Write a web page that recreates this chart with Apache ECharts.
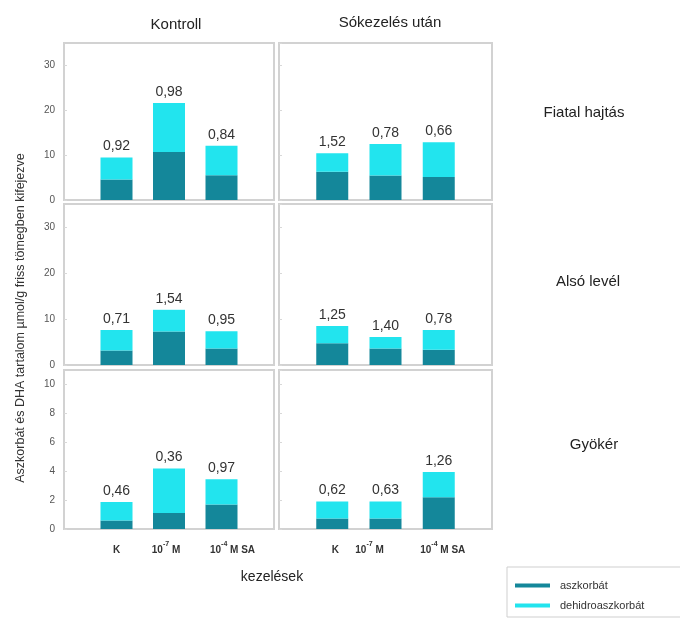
<!DOCTYPE html>
<html>
<head>
<meta charset="utf-8">
<script src="https://cdn.jsdelivr.net/npm/echarts@6/dist/echarts.min.js"></script>
<style>
  html, body { margin: 0; padding: 0; background: #ffffff; }
  #chart { width: 680px; height: 625px; }
</style>
</head>
<body>
<div id="chart"></div>
<script>
// Column and row headings
const columnTitles = ['Kontroll', 'Sókezelés után'];
const rowTitles = ['Fiatal hajtás', 'Alsó levél', 'Gyökér'];

// Treatments: category slots (empty slot at each end) and tick label parts
const treatmentSlots = ['', 'K', '10-7 M', '10-4 M SA', ''];
const treatmentBase = ['K', '10', '10'];
const treatmentExp = ['', '-7', '-4'];
const treatmentSuffix = ['', ' M', ' M SA'];

// Ascorbate (aszkorbát) and DHA (dehidroaszkorbát), µmol/g fresh weight
const ascFiatalKontroll = [4.55, 10.70, 5.52];
const dhaFiatalKontroll = [4.95, 10.90, 6.58];
const ratioFiatalKontroll = ['0,92', '0,98', '0,84'];

const ascFiatalSo = [6.27, 5.48, 5.13];
const dhaFiatalSo = [4.13, 7.02, 7.77];
const ratioFiatalSo = ['1,52', '0,78', '0,66'];

const ascAlsoKontroll = [3.16, 7.28, 3.58];
const dhaAlsoKontroll = [4.44, 4.72, 3.77];
const ratioAlsoKontroll = ['0,71', '1,54', '0,95'];

const ascAlsoSo = [4.72, 3.56, 3.33];
const dhaAlsoSo = [3.78, 2.54, 4.27];
const ratioAlsoSo = ['1,25', '1,40', '0,78'];

const ascGyokerKontroll = [0.59, 1.11, 1.69];
const dhaGyokerKontroll = [1.27, 3.08, 1.75];
const ratioGyokerKontroll = ['0,46', '0,36', '0,97'];

const ascGyokerSo = [0.73, 0.73, 2.20];
const dhaGyokerSo = [1.17, 1.17, 1.75];
const ratioGyokerSo = ['0,62', '0,63', '1,26'];

// y axis scale per row: [max, interval]
const rowScale = [[35, 10], [35, 10], [11, 2]];

const panels = [
  { row: 0, col: 0, asc: ascFiatalKontroll, dha: dhaFiatalKontroll, ratio: ratioFiatalKontroll },
  { row: 0, col: 1, asc: ascFiatalSo, dha: dhaFiatalSo, ratio: ratioFiatalSo },
  { row: 1, col: 0, asc: ascAlsoKontroll, dha: dhaAlsoKontroll, ratio: ratioAlsoKontroll },
  { row: 1, col: 1, asc: ascAlsoSo, dha: dhaAlsoSo, ratio: ratioAlsoSo },
  { row: 2, col: 0, asc: ascGyokerKontroll, dha: dhaGyokerKontroll, ratio: ratioGyokerKontroll },
  { row: 2, col: 1, asc: ascGyokerSo, dha: dhaGyokerSo, ratio: ratioGyokerSo }
];

const FONT = '"Liberation Sans", Arial, sans-serif';
const COLOR_ASC = '#14879a';
const COLOR_DHA = '#22e4ee';

// Panel placement
const colLeft = [64, 279];
const colWidth = [210, 213];
const rowTop = [43, 204, 370];
const rowHeight = [157, 161, 159];
// horizontal nudge of tick labels (px) per column
const labelShift = [[0, -3, 11], [3, -16, 4]];

// pad a three-value list with empty end slots
const slotted = (arr) => ['-', arr[0], arr[1], arr[2], '-'];

const grids = [], xAxes = [], yAxes = [], series = [];

panels.forEach((p, i) => {
  grids.push({
    left: colLeft[p.col], top: rowTop[p.row],
    width: colWidth[p.col], height: rowHeight[p.row],
    show: true, borderColor: '#d2d2d2', borderWidth: 2, backgroundColor: '#ffffff'
  });
  const bottomRow = p.row === 2;
  const shifts = labelShift[p.col];
  xAxes.push({
    type: 'category', gridIndex: i, data: treatmentSlots, boundaryGap: false,
    axisLine: { show: false }, axisTick: { show: false }, splitLine: { show: false },
    axisLabel: {
      show: bottomRow, margin: 12, fontFamily: FONT, interval: 0,
      formatter: function (v, idx) {
        const k = idx - 1;
        if (k < 0 || k > 2) return '';
        const s = shifts[k];
        let txt = '{b|' + treatmentBase[k] + '}';
        if (treatmentExp[k]) txt += '{sup|' + treatmentExp[k] + '}';
        if (treatmentSuffix[k]) txt += '{b|' + treatmentSuffix[k] + '}';
        if (s > 0) txt = '{sp' + k + '|}' + txt;
        if (s < 0) txt = txt + '{sp' + k + '|}';
        return txt;
      },
      rich: {
        b: { fontFamily: FONT, fontSize: 10, fontWeight: 'bold', color: '#333', lineHeight: 14, verticalAlign: 'bottom' },
        sup: { fontFamily: FONT, fontSize: 7, fontWeight: 'bold', color: '#333', lineHeight: 14, verticalAlign: 'top', padding: [0, 0, 5, 0] },
        sp0: { width: Math.abs(shifts[0]) * 2 },
        sp1: { width: Math.abs(shifts[1]) * 2 },
        sp2: { width: Math.abs(shifts[2]) * 2 }
      }
    }
  });
  const sc = rowScale[p.row];
  yAxes.push({
    type: 'value', gridIndex: i, min: 0, max: sc[0], interval: sc[1],
    axisLine: { show: false }, splitLine: { show: false },
    axisTick: { show: true, inside: true, length: 3, lineStyle: { color: '#d8d8d8' } },
    axisLabel: {
      show: p.col === 0, showMaxLabel: false, margin: 9,
      fontFamily: FONT, fontSize: 10, color: '#555'
    }
  });
  const stackId = 'stack' + i;
  series.push({
    name: 'aszkorbát', type: 'bar', xAxisIndex: i, yAxisIndex: i, stack: stackId,
    barWidth: 32, itemStyle: { color: COLOR_ASC },
    data: slotted(p.asc)
  });
  series.push({
    name: 'dehidroaszkorbát', type: 'bar', xAxisIndex: i, yAxisIndex: i, stack: stackId,
    barWidth: 32, itemStyle: { color: COLOR_DHA },
    label: {
      show: true, position: 'top', distance: 4,
      fontFamily: FONT, fontSize: 14, color: '#333',
      formatter: (d) => p.ratio[d.dataIndex - 1]
    },
    data: slotted(p.dha)
  });
});

const rowCenter = [113, 282, 445];

const chart = echarts.init(document.getElementById('chart'), null, { renderer: 'canvas' });
chart.setOption({
  backgroundColor: '#ffffff',
  animation: false,
  grid: grids,
  xAxis: xAxes,
  yAxis: yAxes,
  series: series,
  legend: {
    data: ['aszkorbát', 'dehidroaszkorbát'],
    orient: 'vertical', left: 507, top: 567,
    icon: 'rect', itemWidth: 35, itemHeight: 4, itemGap: 9,
    padding: [13, 40, 6, 8],
    borderColor: '#cfcfcf', borderWidth: 1,
    textStyle: { fontFamily: FONT, fontSize: 11, color: '#333', padding: [0, 0, 0, 5] }
  },
  graphic: [
    { type: 'text', x: 176, y: 25, style: { text: columnTitles[0], font: '15px ' + FONT, fill: '#222', textAlign: 'center', textVerticalAlign: 'middle' } },
    { type: 'text', x: 390, y: 23, style: { text: columnTitles[1], font: '15px ' + FONT, fill: '#222', textAlign: 'center', textVerticalAlign: 'middle' } },
    { type: 'text', x: 584, y: rowCenter[0], style: { text: rowTitles[0], font: '15px ' + FONT, fill: '#222', textAlign: 'center', textVerticalAlign: 'middle' } },
    { type: 'text', x: 588, y: rowCenter[1], style: { text: rowTitles[1], font: '15px ' + FONT, fill: '#222', textAlign: 'center', textVerticalAlign: 'middle' } },
    { type: 'text', x: 594, y: rowCenter[2], style: { text: rowTitles[2], font: '15px ' + FONT, fill: '#222', textAlign: 'center', textVerticalAlign: 'middle' } },
    { type: 'text', x: 272, y: 577, style: { text: 'kezelések', font: '14px ' + FONT, fill: '#222', textAlign: 'center', textVerticalAlign: 'middle' } },
    { type: 'text', x: 21, y: 318, rotation: Math.PI / 2,
      style: { text: 'Aszkorbát és DHA tartalom µmol/g friss tömegben kifejezve', font: '12.5px ' + FONT, fill: '#333', textAlign: 'center', textVerticalAlign: 'middle' } }
  ]
});
</script>
</body>
</html>
